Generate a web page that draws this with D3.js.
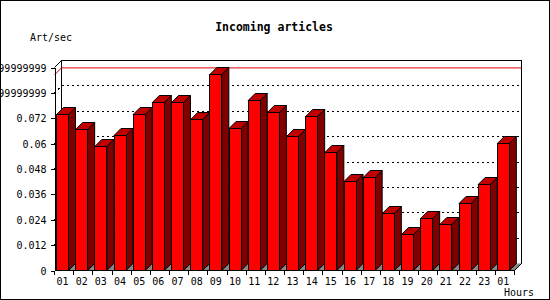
<!DOCTYPE html>
<html lang="en">
<head>
<meta charset="UTF-8">
<title>Incoming articles</title>
<script src="https://d3js.org/d3.v7.min.js"></script>
<style>
    body { margin: 0; background: #fff; }
    svg { display: block; }
    text { font-family: "DejaVu Sans Mono", "Liberation Mono", monospace; font-size: 10px; fill: #000; }
    .title { font-weight: bold; font-size: 11.5px; }
</style>
</head>
<body>
<div id="chart"></div>
<script>

    // data
    var hours = ["01","02","03","04","05","06","07","08","09","10","11","12",
                 "13","14","15","16","17","18","19","20","21","22","23","01"];
    var rates = [0.0736, 0.0665, 0.0585, 0.0637, 0.0736, 0.0793, 0.0793, 0.0713,
                 0.0925, 0.0670, 0.0802, 0.0747, 0.0632, 0.0727, 0.0557, 0.0419,
                 0.0440, 0.0268, 0.0169, 0.0244, 0.0218, 0.0315, 0.0405, 0.0599];
    var tickValues = [0, 0.012, 0.024, 0.036, 0.048, 0.06, 0.072, 0.084, 0.096];
    var tickLabels = ["0", "0.012", "0.024", "0.036", "0.048", "0.06", "0.072",
                      "0.08399999999999999", "0.09599999999999999"];

    var W = 550, H = 300;
    var depth = 7;   // 3d offset

    var svg = d3.select("#chart").append("svg")
        .attr("width", W)
        .attr("height", H);

    // outer frame
    svg.append("rect")
        .attr("x", 0.5).attr("y", 0.5)
        .attr("width", W - 1).attr("height", H - 1)
        .attr("fill", "#fff").attr("stroke", "#000")
        .attr("shape-rendering", "crispEdges");

    var g = svg.append("g").attr("transform", "translate(0.5,0.5)");

    var x = d3.scaleBand()
        .domain(d3.range(hours.length))
        .range([54, 514]);

    var y = d3.scaleLinear()
        .domain([0, 0.096])
        .range([270, 67]);

    var x0 = x.range()[0], x1 = x.range()[1];
    var yTop = y(0.096), yBot = y(0);

    // back wall
    g.append("path")
        .attr("d", "M" + (x0 + depth) + "," + (yBot - depth) +
                   "V" + (yTop - depth) + "H" + (x1 + depth) + "V" + (yBot - depth))
        .attr("fill", "none").attr("stroke", "#000")
        .attr("shape-rendering", "crispEdges");
    g.append("line")
        .attr("x1", x0).attr("y1", yTop)
        .attr("x2", x0 + depth).attr("y2", yTop - depth)
        .attr("stroke", "#000");

    // dotted grid lines
    var grid = tickValues.filter(function (d) { return d > 0 && d < 0.096; });
    g.selectAll(".grid")
        .data(grid)
        .enter().append("path")
        .attr("class", "grid")
        .attr("d", function (d) {
            return "M" + x0 + "," + y(d) + "L" + (x0 + depth) + "," + (y(d) - depth) +
                   "H" + (x1 + depth);
        })
        .attr("fill", "none")
        .attr("stroke", "#000")
        .attr("stroke-dasharray", "2,3")
        .attr("shape-rendering", "crispEdges");

    // max line
    var vmax = d3.max(rates);
    g.append("path")
        .attr("d", "M" + x0 + "," + y(vmax) + "L" + (x0 + depth) + "," + (y(vmax) - depth) +
                   "H" + (x1 + depth))
        .attr("fill", "none")
        .attr("stroke", "#e00000");

    // floor
    g.append("path")
        .attr("d", "M" + x0 + "," + yBot + "L" + (x0 + depth) + "," + (yBot - depth) +
                   "H" + (x1 + depth) + "L" + x1 + "," + yBot + "Z")
        .attr("fill", "#888").attr("stroke", "none");
    g.append("line")
        .attr("x1", x1).attr("y1", yBot)
        .attr("x2", x1 + depth).attr("y2", yBot - depth)
        .attr("stroke", "#000");

    // bars
    var bw = 12;
    var bars = g.selectAll(".bar")
        .data(rates)
        .enter().append("g")
        .attr("class", "bar");

    bars.append("path")   // side
        .attr("d", function (d, i) {
            var bx = x(i) + 2 + bw, t = Math.round(y(d));
            return "M" + bx + "," + t + "L" + (bx + depth) + "," + (t - depth) +
                   "V" + (yBot - depth) + "L" + bx + "," + yBot + "Z";
        })
        .attr("fill", "#800000").attr("stroke", "#000");

    bars.append("path")   // top
        .attr("d", function (d, i) {
            var bx = x(i) + 2, t = Math.round(y(d));
            return "M" + bx + "," + t + "L" + (bx + depth) + "," + (t - depth) +
                   "H" + (bx + bw + depth) + "L" + (bx + bw) + "," + t + "Z";
        })
        .attr("fill", "#c00000").attr("stroke", "#000");

    bars.append("rect")   // front
        .attr("x", function (d, i) { return x(i) + 2; })
        .attr("y", function (d) { return Math.round(y(d)); })
        .attr("width", bw)
        .attr("height", function (d) { return yBot - Math.round(y(d)); })
        .attr("fill", "#ff0000").attr("stroke", "#000")
        .attr("shape-rendering", "crispEdges");

    // y axis
    var yAxis = g.append("g")
        .attr("transform", "translate(" + x0 + ",0)")
        .call(d3.axisLeft(y)
            .tickValues(tickValues)
            .tickFormat(function (d, i) { return tickLabels[i]; })
            .tickSize(4)
            .tickSizeOuter(0)
            .tickPadding(4));
    yAxis.selectAll("text").attr("font-family", null).attr("font-size", null).attr("dy", "0.35em");
    yAxis.selectAll("path, line").attr("stroke", "#000").attr("shape-rendering", "crispEdges");

    // x axis: ticks at band edges, labels under bar fronts
    g.append("line")
        .attr("x1", x0).attr("x2", x1)
        .attr("y1", yBot).attr("y2", yBot)
        .attr("stroke", "#000").attr("shape-rendering", "crispEdges");
    g.selectAll(".xtick")
        .data(d3.range(hours.length + 1))
        .enter().append("line")
        .attr("class", "xtick")
        .attr("x1", function (i) { return i < hours.length ? x(i) : x1; })
        .attr("x2", function (i) { return i < hours.length ? x(i) : x1; })
        .attr("y1", yBot).attr("y2", yBot + 4)
        .attr("stroke", "#000").attr("shape-rendering", "crispEdges");
    g.selectAll(".xlabel")
        .data(hours)
        .enter().append("text")
        .attr("class", "xlabel")
        .attr("x", function (d, i) { return x(i) + 2 + bw / 2; })
        .attr("y", 284)
        .attr("text-anchor", "middle")
        .text(function (d) { return d; });

    // titles
    svg.append("text")
        .attr("class", "title")
        .attr("x", 274).attr("y", 31)
        .attr("text-anchor", "middle")
        .text("Incoming articles");
    svg.append("text")
        .attr("x", 30).attr("y", 41)
        .text("Art/sec");
    svg.append("text")
        .attr("x", 504).attr("y", 296)
        .text("Hours");

</script>
</body>
</html>
